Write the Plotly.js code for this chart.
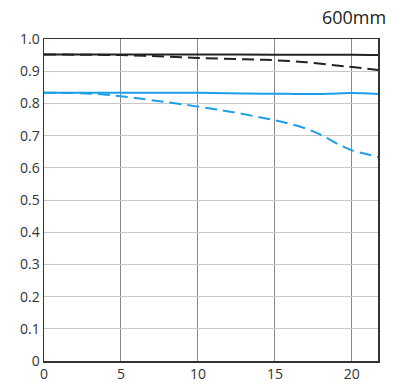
<!DOCTYPE html>
<html><head><meta charset="utf-8">
<script src="https://cdn.plot.ly/plotly-3.0.1.min.js"></script>
<style>html,body{margin:0;padding:0;background:#fff;}#c{width:396px;height:388px;}</style>
</head><body><div id="c"></div>
<script>
const xBlackSolid = [0, 5, 10, 15, 20, 21.7];
const yBlackSolid = [0.952, 0.952, 0.952, 0.951, 0.951, 0.950];
const xBlackDash = [0, 3, 5, 8, 10, 13, 15, 17, 19, 20, 21.7];
const yBlackDash = [0.952, 0.951, 0.950, 0.945, 0.941, 0.937, 0.934, 0.928, 0.918, 0.913, 0.904];
const xBlueSolid = [0, 5, 10, 13, 15, 17, 18.5, 20, 21.7];
const yBlueSolid = [0.833, 0.833, 0.833, 0.831, 0.830, 0.829, 0.830, 0.832, 0.829];
const xBlueDash = [0, 2, 3.5, 5, 7, 10, 12, 14, 15.5, 17, 18, 19, 20, 21, 21.7];
const yBlueDash = [0.833, 0.832, 0.829, 0.822, 0.810, 0.790, 0.775, 0.757, 0.742, 0.722, 0.702, 0.676, 0.654, 0.642, 0.633];
const xTicks = [0, 5, 10, 15, 20];
const yTicks = [0, 0.1, 0.2, 0.3, 0.4, 0.5, 0.6, 0.7, 0.8, 0.9, 1.0];
const yTickText = ['0', '0.1', '0.2', '0.3', '0.4', '0.5', '0.6', '0.7', '0.8', '0.9', '1.0'];
const titleText = '600mm';

const blue = '#1c9fe8';
const traces = [
  {x: xBlackSolid, y: yBlackSolid, mode: 'lines', line: {color: '#222', width: 2, shape: 'spline'}},
  {x: xBlackDash, y: yBlackDash, mode: 'lines', line: {color: '#222', width: 2, dash: '12px,6px', shape: 'spline'}},
  {x: xBlueSolid, y: yBlueSolid, mode: 'lines', line: {color: blue, width: 2, shape: 'spline'}},
  {x: xBlueDash, y: yBlueDash, mode: 'lines', line: {color: blue, width: 2, dash: '12px,6px', shape: 'spline'}}
];
const layout = {
  width: 396, height: 388,
  margin: {l: 44, r: 18, t: 39, b: 27},
  showlegend: false,
  paper_bgcolor: '#fff', plot_bgcolor: '#fff',
  font: {family: 'Open Sans, Liberation Sans, sans-serif', size: 14, color: '#333'},
  title: {text: titleText, x: 0.975, xanchor: 'right', y: 0.97, yanchor: 'top', font: {size: 18, color: '#222'}},
  xaxis: {range: [0, 21.7], tickvals: xTicks, ticktext: xTicks.map(String), showgrid: true, gridcolor: '#888', gridwidth: 1,
    zeroline: false, showline: true, linecolor: '#333', linewidth: 1.5, mirror: true, ticks: '', ticklen: 0, fixedrange: true},
  yaxis: {range: [0, 1.0], tickvals: yTicks, ticktext: yTickText, showgrid: true, gridcolor: '#c8c8c8', gridwidth: 1,
    zeroline: false, showline: true, linecolor: '#333', linewidth: 1.5, mirror: true, ticks: '', ticklen: 0, fixedrange: true}
};
Plotly.newPlot('c', traces, layout, {staticPlot: true, displayModeBar: false});
</script></body></html>
